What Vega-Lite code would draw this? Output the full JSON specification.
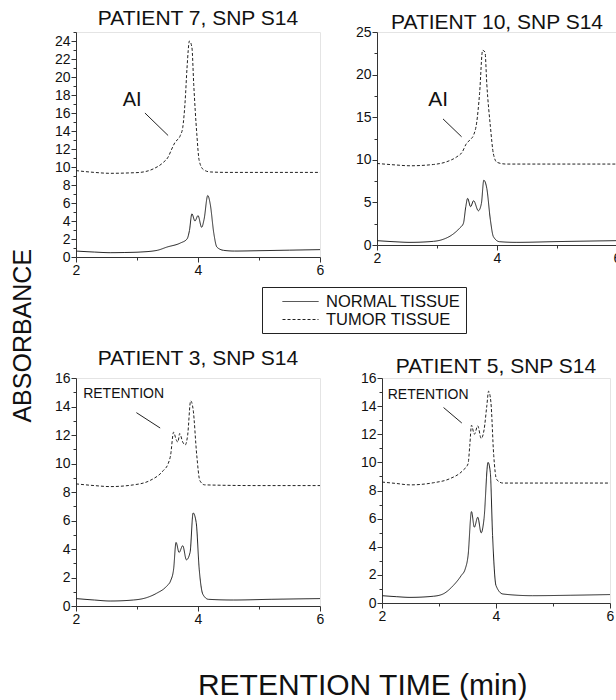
{
  "$schema": "https://vega.github.io/schema/vega-lite/v6.json",
  "padding": {"left": 10, "top": 7, "right": 0, "bottom": 5},
  "config": {
    "font": "Liberation Sans",
    "view": {"stroke": "#e4e4e4"},
    "axis": {"grid": false, "domainColor": "#333", "tickColor": "#333", "labelColor": "#111", "labelFontSize": 14, "labelFont": "Liberation Sans", "labelPadding": 1, "tickSize": 5, "labelFlush": false, "labelOverlap": false, "format": "~g", "tickCount": 60},
    "title": {"fontSize": 21, "fontWeight": "normal", "color": "#111", "font": "Liberation Sans"},
    "legend": {"strokeColor": "#222", "fillColor": "white", "padding": 5, "cornerRadius": 0, "labelFontSize": 16.5, "labelColor": "#111", "symbolType": "M-2,0H2", "symbolSize": 324, "symbolStrokeWidth": 1, "symbolStrokeColor": "#222", "symbolOffset": 24, "labelOffset": 16, "rowPadding": 0}
  },
  "datasets": {
    "curves": [
      {"p":"P7","s":"NORMAL TISSUE","x":2,"y":0.66},{"p":"P7","s":"NORMAL TISSUE","x":2.3,"y":0.55},{"p":"P7","s":"NORMAL TISSUE","x":2.56,"y":0.48},{"p":"P7","s":"NORMAL TISSUE","x":2.8,"y":0.5},{"p":"P7","s":"NORMAL TISSUE","x":3.05,"y":0.55},{"p":"P7","s":"NORMAL TISSUE","x":3.33,"y":0.74},{"p":"P7","s":"NORMAL TISSUE","x":3.49,"y":1.1},{"p":"P7","s":"NORMAL TISSUE","x":3.71,"y":1.55},{"p":"P7","s":"NORMAL TISSUE","x":3.82,"y":2.0},{"p":"P7","s":"NORMAL TISSUE","x":3.86,"y":2.95},{"p":"P7","s":"NORMAL TISSUE","x":3.9,"y":4.8},{"p":"P7","s":"NORMAL TISSUE","x":3.95,"y":4.0},{"p":"P7","s":"NORMAL TISSUE","x":4.0,"y":4.6},{"p":"P7","s":"NORMAL TISSUE","x":4.06,"y":3.3},{"p":"P7","s":"NORMAL TISSUE","x":4.1,"y":4.2},{"p":"P7","s":"NORMAL TISSUE","x":4.16,"y":6.83},{"p":"P7","s":"NORMAL TISSUE","x":4.2,"y":5.9},{"p":"P7","s":"NORMAL TISSUE","x":4.26,"y":2.6},{"p":"P7","s":"NORMAL TISSUE","x":4.31,"y":1.1},{"p":"P7","s":"NORMAL TISSUE","x":4.42,"y":0.74},{"p":"P7","s":"NORMAL TISSUE","x":4.6,"y":0.66},{"p":"P7","s":"NORMAL TISSUE","x":5.0,"y":0.7},{"p":"P7","s":"NORMAL TISSUE","x":5.5,"y":0.76},{"p":"P7","s":"NORMAL TISSUE","x":6,"y":0.82},
      {"p":"P7","s":"TUMOR TISSUE","x":2,"y":9.6},{"p":"P7","s":"TUMOR TISSUE","x":2.3,"y":9.4},{"p":"P7","s":"TUMOR TISSUE","x":2.56,"y":9.3},{"p":"P7","s":"TUMOR TISSUE","x":2.9,"y":9.35},{"p":"P7","s":"TUMOR TISSUE","x":3.05,"y":9.4},{"p":"P7","s":"TUMOR TISSUE","x":3.27,"y":9.8},{"p":"P7","s":"TUMOR TISSUE","x":3.43,"y":10.5},{"p":"P7","s":"TUMOR TISSUE","x":3.51,"y":11.1},{"p":"P7","s":"TUMOR TISSUE","x":3.57,"y":12.0},{"p":"P7","s":"TUMOR TISSUE","x":3.62,"y":12.7},{"p":"P7","s":"TUMOR TISSUE","x":3.71,"y":13.5},{"p":"P7","s":"TUMOR TISSUE","x":3.75,"y":14.4},{"p":"P7","s":"TUMOR TISSUE","x":3.79,"y":17.4},{"p":"P7","s":"TUMOR TISSUE","x":3.82,"y":21.0},{"p":"P7","s":"TUMOR TISSUE","x":3.86,"y":24.0},{"p":"P7","s":"TUMOR TISSUE","x":3.9,"y":23.3},{"p":"P7","s":"TUMOR TISSUE","x":3.93,"y":19.2},{"p":"P7","s":"TUMOR TISSUE","x":3.98,"y":13.7},{"p":"P7","s":"TUMOR TISSUE","x":4.02,"y":10.7},{"p":"P7","s":"TUMOR TISSUE","x":4.09,"y":9.7},{"p":"P7","s":"TUMOR TISSUE","x":4.2,"y":9.45},{"p":"P7","s":"TUMOR TISSUE","x":4.5,"y":9.4},{"p":"P7","s":"TUMOR TISSUE","x":5,"y":9.4},{"p":"P7","s":"TUMOR TISSUE","x":6,"y":9.4},
      {"p":"P10","s":"NORMAL TISSUE","x":2,"y":0.51},{"p":"P10","s":"NORMAL TISSUE","x":2.3,"y":0.38},{"p":"P10","s":"NORMAL TISSUE","x":2.55,"y":0.31},{"p":"P10","s":"NORMAL TISSUE","x":2.94,"y":0.43},{"p":"P10","s":"NORMAL TISSUE","x":3.1,"y":0.66},{"p":"P10","s":"NORMAL TISSUE","x":3.27,"y":1.29},{"p":"P10","s":"NORMAL TISSUE","x":3.38,"y":2.0},{"p":"P10","s":"NORMAL TISSUE","x":3.44,"y":2.54},{"p":"P10","s":"NORMAL TISSUE","x":3.48,"y":4.5},{"p":"P10","s":"NORMAL TISSUE","x":3.51,"y":5.47},{"p":"P10","s":"NORMAL TISSUE","x":3.56,"y":4.5},{"p":"P10","s":"NORMAL TISSUE","x":3.61,"y":5.2},{"p":"P10","s":"NORMAL TISSUE","x":3.69,"y":4.02},{"p":"P10","s":"NORMAL TISSUE","x":3.74,"y":4.88},{"p":"P10","s":"NORMAL TISSUE","x":3.78,"y":7.6},{"p":"P10","s":"NORMAL TISSUE","x":3.83,"y":6.64},{"p":"P10","s":"NORMAL TISSUE","x":3.89,"y":2.93},{"p":"P10","s":"NORMAL TISSUE","x":3.94,"y":0.98},{"p":"P10","s":"NORMAL TISSUE","x":4.04,"y":0.39},{"p":"P10","s":"NORMAL TISSUE","x":4.32,"y":0.31},{"p":"P10","s":"NORMAL TISSUE","x":5,"y":0.4},{"p":"P10","s":"NORMAL TISSUE","x":6,"y":0.51},
      {"p":"P10","s":"TUMOR TISSUE","x":2,"y":9.57},{"p":"P10","s":"TUMOR TISSUE","x":2.3,"y":9.4},{"p":"P10","s":"TUMOR TISSUE","x":2.55,"y":9.3},{"p":"P10","s":"TUMOR TISSUE","x":2.94,"y":9.45},{"p":"P10","s":"TUMOR TISSUE","x":3.16,"y":9.77},{"p":"P10","s":"TUMOR TISSUE","x":3.33,"y":10.35},{"p":"P10","s":"TUMOR TISSUE","x":3.42,"y":10.9},{"p":"P10","s":"TUMOR TISSUE","x":3.49,"y":11.9},{"p":"P10","s":"TUMOR TISSUE","x":3.56,"y":12.4},{"p":"P10","s":"TUMOR TISSUE","x":3.61,"y":12.9},{"p":"P10","s":"TUMOR TISSUE","x":3.66,"y":14.3},{"p":"P10","s":"TUMOR TISSUE","x":3.71,"y":17.8},{"p":"P10","s":"TUMOR TISSUE","x":3.76,"y":22.85},{"p":"P10","s":"TUMOR TISSUE","x":3.8,"y":22.65},{"p":"P10","s":"TUMOR TISSUE","x":3.83,"y":18.9},{"p":"P10","s":"TUMOR TISSUE","x":3.89,"y":13.9},{"p":"P10","s":"TUMOR TISSUE","x":3.94,"y":10.7},{"p":"P10","s":"TUMOR TISSUE","x":4.0,"y":9.7},{"p":"P10","s":"TUMOR TISSUE","x":4.15,"y":9.5},{"p":"P10","s":"TUMOR TISSUE","x":5,"y":9.5},{"p":"P10","s":"TUMOR TISSUE","x":6,"y":9.5},
      {"p":"P3","s":"NORMAL TISSUE","x":2,"y":0.52},{"p":"P3","s":"NORMAL TISSUE","x":2.3,"y":0.42},{"p":"P3","s":"NORMAL TISSUE","x":2.56,"y":0.35},{"p":"P3","s":"NORMAL TISSUE","x":2.94,"y":0.42},{"p":"P3","s":"NORMAL TISSUE","x":3.16,"y":0.59},{"p":"P3","s":"NORMAL TISSUE","x":3.32,"y":0.89},{"p":"P3","s":"NORMAL TISSUE","x":3.49,"y":1.41},{"p":"P3","s":"NORMAL TISSUE","x":3.55,"y":1.76},{"p":"P3","s":"NORMAL TISSUE","x":3.6,"y":2.58},{"p":"P3","s":"NORMAL TISSUE","x":3.64,"y":4.46},{"p":"P3","s":"NORMAL TISSUE","x":3.69,"y":3.76},{"p":"P3","s":"NORMAL TISSUE","x":3.75,"y":4.23},{"p":"P3","s":"NORMAL TISSUE","x":3.81,"y":3.24},{"p":"P3","s":"NORMAL TISSUE","x":3.87,"y":3.76},{"p":"P3","s":"NORMAL TISSUE","x":3.92,"y":6.53},{"p":"P3","s":"NORMAL TISSUE","x":3.97,"y":5.87},{"p":"P3","s":"NORMAL TISSUE","x":4.02,"y":2.58},{"p":"P3","s":"NORMAL TISSUE","x":4.08,"y":0.82},{"p":"P3","s":"NORMAL TISSUE","x":4.17,"y":0.47},{"p":"P3","s":"NORMAL TISSUE","x":4.58,"y":0.42},{"p":"P3","s":"NORMAL TISSUE","x":5.2,"y":0.47},{"p":"P3","s":"NORMAL TISSUE","x":6,"y":0.52},
      {"p":"P3","s":"TUMOR TISSUE","x":2,"y":8.57},{"p":"P3","s":"TUMOR TISSUE","x":2.3,"y":8.45},{"p":"P3","s":"TUMOR TISSUE","x":2.56,"y":8.38},{"p":"P3","s":"TUMOR TISSUE","x":2.94,"y":8.5},{"p":"P3","s":"TUMOR TISSUE","x":3.21,"y":8.8},{"p":"P3","s":"TUMOR TISSUE","x":3.43,"y":9.5},{"p":"P3","s":"TUMOR TISSUE","x":3.51,"y":9.98},{"p":"P3","s":"TUMOR TISSUE","x":3.55,"y":10.56},{"p":"P3","s":"TUMOR TISSUE","x":3.6,"y":12.2},{"p":"P3","s":"TUMOR TISSUE","x":3.64,"y":11.7},{"p":"P3","s":"TUMOR TISSUE","x":3.67,"y":11.5},{"p":"P3","s":"TUMOR TISSUE","x":3.7,"y":12.1},{"p":"P3","s":"TUMOR TISSUE","x":3.75,"y":11.5},{"p":"P3","s":"TUMOR TISSUE","x":3.79,"y":11.3},{"p":"P3","s":"TUMOR TISSUE","x":3.83,"y":11.97},{"p":"P3","s":"TUMOR TISSUE","x":3.88,"y":14.4},{"p":"P3","s":"TUMOR TISSUE","x":3.92,"y":13.8},{"p":"P3","s":"TUMOR TISSUE","x":3.98,"y":10.56},{"p":"P3","s":"TUMOR TISSUE","x":4.03,"y":8.8},{"p":"P3","s":"TUMOR TISSUE","x":4.11,"y":8.5},{"p":"P3","s":"TUMOR TISSUE","x":5,"y":8.45},{"p":"P3","s":"TUMOR TISSUE","x":6,"y":8.45},
      {"p":"P5","s":"NORMAL TISSUE","x":2,"y":0.52},{"p":"P5","s":"NORMAL TISSUE","x":2.25,"y":0.45},{"p":"P5","s":"NORMAL TISSUE","x":2.49,"y":0.4},{"p":"P5","s":"NORMAL TISSUE","x":2.9,"y":0.48},{"p":"P5","s":"NORMAL TISSUE","x":3.07,"y":0.64},{"p":"P5","s":"NORMAL TISSUE","x":3.25,"y":1.24},{"p":"P5","s":"NORMAL TISSUE","x":3.39,"y":1.95},{"p":"P5","s":"NORMAL TISSUE","x":3.46,"y":2.42},{"p":"P5","s":"NORMAL TISSUE","x":3.51,"y":3.37},{"p":"P5","s":"NORMAL TISSUE","x":3.57,"y":6.5},{"p":"P5","s":"NORMAL TISSUE","x":3.62,"y":5.39},{"p":"P5","s":"NORMAL TISSUE","x":3.68,"y":6.1},{"p":"P5","s":"NORMAL TISSUE","x":3.74,"y":4.99},{"p":"P5","s":"NORMAL TISSUE","x":3.79,"y":6.0},{"p":"P5","s":"NORMAL TISSUE","x":3.86,"y":10.0},{"p":"P5","s":"NORMAL TISSUE","x":3.9,"y":9.3},{"p":"P5","s":"NORMAL TISSUE","x":3.94,"y":4.8},{"p":"P5","s":"NORMAL TISSUE","x":4.0,"y":1.24},{"p":"P5","s":"NORMAL TISSUE","x":4.12,"y":0.64},{"p":"P5","s":"NORMAL TISSUE","x":4.64,"y":0.52},{"p":"P5","s":"NORMAL TISSUE","x":5.3,"y":0.55},{"p":"P5","s":"NORMAL TISSUE","x":6,"y":0.6},
      {"p":"P5","s":"TUMOR TISSUE","x":2,"y":8.6},{"p":"P5","s":"TUMOR TISSUE","x":2.25,"y":8.5},{"p":"P5","s":"TUMOR TISSUE","x":2.49,"y":8.4},{"p":"P5","s":"TUMOR TISSUE","x":2.9,"y":8.55},{"p":"P5","s":"TUMOR TISSUE","x":3.19,"y":8.84},{"p":"P5","s":"TUMOR TISSUE","x":3.42,"y":9.43},{"p":"P5","s":"TUMOR TISSUE","x":3.51,"y":9.9},{"p":"P5","s":"TUMOR TISSUE","x":3.54,"y":11.2},{"p":"P5","s":"TUMOR TISSUE","x":3.57,"y":12.64},{"p":"P5","s":"TUMOR TISSUE","x":3.62,"y":12.0},{"p":"P5","s":"TUMOR TISSUE","x":3.68,"y":12.6},{"p":"P5","s":"TUMOR TISSUE","x":3.74,"y":11.7},{"p":"P5","s":"TUMOR TISSUE","x":3.79,"y":12.3},{"p":"P5","s":"TUMOR TISSUE","x":3.84,"y":14.06},{"p":"P5","s":"TUMOR TISSUE","x":3.87,"y":15.06},{"p":"P5","s":"TUMOR TISSUE","x":3.91,"y":14.3},{"p":"P5","s":"TUMOR TISSUE","x":3.96,"y":10.5},{"p":"P5","s":"TUMOR TISSUE","x":4.01,"y":8.79},{"p":"P5","s":"TUMOR TISSUE","x":4.12,"y":8.53},{"p":"P5","s":"TUMOR TISSUE","x":5,"y":8.53},{"p":"P5","s":"TUMOR TISSUE","x":6,"y":8.53}
    ],
    "notes": [
      {"p":"P7","label":"AI","x":2.92,"y":17.4},
      {"p":"P10","label":"AI","x":3.02,"y":17.0},
      {"p":"P3","label":"RETENTION","x":2.78,"y":14.86},
      {"p":"P5","label":"RETENTION","x":2.81,"y":14.8}
    ],
    "arrows": [
      {"p":"P7","x":3.13,"y":16.0,"x2":3.51,"y2":13.5},
      {"p":"P10","x":3.1,"y":14.8,"x2":3.41,"y2":12.7},
      {"p":"P3","x":2.99,"y":13.57,"x2":3.38,"y2":12.49},
      {"p":"P5","x":3.08,"y":13.9,"x2":3.40,"y2":12.8}
    ]
  },
  "title": {"text": "ABSORBANCE", "orient": "left", "fontSize": 25, "offset": 18, "anchor": "middle", "frame": "bounds", "dx": 18},
  "vconcat": [
    {
      "title": {"text": "RETENTION TIME (min)", "orient": "bottom", "fontSize": 30, "offset": 44, "anchor": "middle", "frame": "bounds", "dx": 25},
      "spacing": 69,
      "vconcat": [
        {
          "bounds": "flush",
          "spacing": 57,
          "hconcat": [
            {
              "width": 244, "height": 225,
              "title": {"text": "PATIENT 7, SNP S14", "offset": -3.5},
              "layer": [
                {"data": {"name": "curves"}, "transform": [{"filter": "datum.p === 'P7'"}],
                 "mark": {"type": "line", "interpolate": "monotone", "strokeWidth": 1, "color": "#222"},
                 "encoding": {
                   "x": {"field": "x", "type": "quantitative", "scale": {"domain": [2, 6], "nice": false}, "axis": {"title": null, "labelOverlap": false, "tickCount": 60, "values": [2,3,4,5,6], "labelExpr": "datum.value % 2 === 0 ? datum.label : ''", "tickSize": {"condition": {"test": "datum.value % 2 === 0", "value": 5}, "value": 3}}},
                   "y": {"field": "y", "type": "quantitative", "scale": {"domain": [0, 25], "nice": false}, "axis": {"title": null, "labelOverlap": false, "tickCount": 60, "values": [0,1,2,3,4,5,6,7,8,9,10,11,12,13,14,15,16,17,18,19,20,21,22,23,24,25], "labelExpr": "datum.value % 2 === 0 && datum.value < 25 ? datum.label : ''", "tickSize": {"condition": {"test": "datum.value % 2 === 0", "value": 5}, "value": 3}}},
                   "strokeDash": {"field": "s", "type": "nominal", "scale": {"domain": ["NORMAL TISSUE", "TUMOR TISSUE"], "range": [[1, 0], [3, 2]]}, "legend": {"title": null, "orient": "none", "legendX": 186, "legendY": 255}}
                 }},
                {"data": {"name": "notes"}, "transform": [{"filter": "datum.p === 'P7'"}],
                 "mark": {"type": "text", "fontSize": 20, "color": "#111"},
                 "encoding": {"x": {"field": "x", "type": "quantitative"}, "y": {"field": "y", "type": "quantitative"}, "text": {"field": "label"}}},
                {"data": {"name": "arrows"}, "transform": [{"filter": "datum.p === 'P7'"}],
                 "mark": {"type": "rule", "color": "#222", "strokeWidth": 1},
                 "encoding": {"x": {"field": "x", "type": "quantitative"}, "y": {"field": "y", "type": "quantitative"}, "x2": {"field": "x2"}, "y2": {"field": "y2"}}}
              ]
            },
            {
              "width": 240, "height": 213,
              "title": {"text": "PATIENT 10, SNP S14", "offset": -7.5},
              "layer": [
                {"data": {"name": "curves"}, "transform": [{"filter": "datum.p === 'P10'"}],
                 "mark": {"type": "line", "interpolate": "monotone", "strokeWidth": 1, "color": "#222"},
                 "encoding": {
                   "x": {"field": "x", "type": "quantitative", "scale": {"domain": [2, 6], "nice": false}, "axis": {"title": null, "labelOverlap": false, "tickCount": 60, "values": [2,3,4,5,6], "labelExpr": "datum.value % 2 === 0 ? datum.label : ''", "tickSize": {"condition": {"test": "datum.value % 2 === 0", "value": 5}, "value": 3}}},
                   "y": {"field": "y", "type": "quantitative", "scale": {"domain": [0, 25], "nice": false}, "axis": {"title": null, "labelOverlap": false, "tickCount": 60, "values": [0,2.5,5,7.5,10,12.5,15,17.5,20,22.5,25], "labelExpr": "datum.value % 5 === 0 ? datum.label : ''", "tickSize": {"condition": {"test": "datum.value % 5 === 0", "value": 5}, "value": 3}}},
                   "strokeDash": {"field": "s", "type": "nominal", "scale": {"domain": ["NORMAL TISSUE", "TUMOR TISSUE"], "range": [[1, 0], [3, 2]]}, "legend": null}
                 }},
                {"data": {"name": "notes"}, "transform": [{"filter": "datum.p === 'P10'"}],
                 "mark": {"type": "text", "fontSize": 21, "color": "#111"},
                 "encoding": {"x": {"field": "x", "type": "quantitative"}, "y": {"field": "y", "type": "quantitative"}, "text": {"field": "label"}}},
                {"data": {"name": "arrows"}, "transform": [{"filter": "datum.p === 'P10'"}],
                 "mark": {"type": "rule", "color": "#222", "strokeWidth": 1},
                 "encoding": {"x": {"field": "x", "type": "quantitative"}, "y": {"field": "y", "type": "quantitative"}, "x2": {"field": "x2"}, "y2": {"field": "y2"}}}
              ]
            }
          ]
        },
        {
          "bounds": "flush",
          "spacing": 62,
          "hconcat": [
            {
              "width": 244, "height": 228,
              "title": {"text": "PATIENT 3, SNP S14", "offset": 2.5},
              "layer": [
                {"data": {"name": "curves"}, "transform": [{"filter": "datum.p === 'P3'"}],
                 "mark": {"type": "line", "interpolate": "monotone", "strokeWidth": 1, "color": "#222"},
                 "encoding": {
                   "x": {"field": "x", "type": "quantitative", "scale": {"domain": [2, 6], "nice": false}, "axis": {"title": null, "labelOverlap": false, "tickCount": 60, "values": [2,3,4,5,6], "labelExpr": "datum.value % 2 === 0 ? datum.label : ''", "tickSize": {"condition": {"test": "datum.value % 2 === 0", "value": 5}, "value": 3}}},
                   "y": {"field": "y", "type": "quantitative", "scale": {"domain": [0, 16], "nice": false}, "axis": {"title": null, "labelOverlap": false, "tickCount": 60, "values": [0,1,2,3,4,5,6,7,8,9,10,11,12,13,14,15,16], "labelExpr": "datum.value % 2 === 0 ? datum.label : ''", "tickSize": {"condition": {"test": "datum.value % 2 === 0", "value": 5}, "value": 3}}},
                   "strokeDash": {"field": "s", "type": "nominal", "scale": {"domain": ["NORMAL TISSUE", "TUMOR TISSUE"], "range": [[1, 0], [3, 2]]}, "legend": null}
                 }},
                {"data": {"name": "notes"}, "transform": [{"filter": "datum.p === 'P3'"}],
                 "mark": {"type": "text", "fontSize": 14, "color": "#111"},
                 "encoding": {"x": {"field": "x", "type": "quantitative"}, "y": {"field": "y", "type": "quantitative"}, "text": {"field": "label"}}},
                {"data": {"name": "arrows"}, "transform": [{"filter": "datum.p === 'P3'"}],
                 "mark": {"type": "rule", "color": "#222", "strokeWidth": 1},
                 "encoding": {"x": {"field": "x", "type": "quantitative"}, "y": {"field": "y", "type": "quantitative"}, "x2": {"field": "x2"}, "y2": {"field": "y2"}}}
              ]
            },
            {
              "width": 228, "height": 225,
              "title": {"text": "PATIENT 5, SNP S14", "offset": -5.5},
              "layer": [
                {"data": {"name": "curves"}, "transform": [{"filter": "datum.p === 'P5'"}],
                 "mark": {"type": "line", "interpolate": "monotone", "strokeWidth": 1, "color": "#222"},
                 "encoding": {
                   "x": {"field": "x", "type": "quantitative", "scale": {"domain": [2, 6], "nice": false}, "axis": {"title": null, "labelOverlap": false, "tickCount": 60, "values": [2,3,4,5,6], "labelExpr": "datum.value % 2 === 0 ? datum.label : ''", "tickSize": {"condition": {"test": "datum.value % 2 === 0", "value": 5}, "value": 3}}},
                   "y": {"field": "y", "type": "quantitative", "scale": {"domain": [0, 16], "nice": false}, "axis": {"title": null, "labelOverlap": false, "tickCount": 60, "values": [0,1,2,3,4,5,6,7,8,9,10,11,12,13,14,15,16], "labelExpr": "datum.value % 2 === 0 ? datum.label : ''", "tickSize": {"condition": {"test": "datum.value % 2 === 0", "value": 5}, "value": 3}}},
                   "strokeDash": {"field": "s", "type": "nominal", "scale": {"domain": ["NORMAL TISSUE", "TUMOR TISSUE"], "range": [[1, 0], [3, 2]]}, "legend": null}
                 }},
                {"data": {"name": "notes"}, "transform": [{"filter": "datum.p === 'P5'"}],
                 "mark": {"type": "text", "fontSize": 14, "color": "#111"},
                 "encoding": {"x": {"field": "x", "type": "quantitative"}, "y": {"field": "y", "type": "quantitative"}, "text": {"field": "label"}}},
                {"data": {"name": "arrows"}, "transform": [{"filter": "datum.p === 'P5'"}],
                 "mark": {"type": "rule", "color": "#222", "strokeWidth": 1},
                 "encoding": {"x": {"field": "x", "type": "quantitative"}, "y": {"field": "y", "type": "quantitative"}, "x2": {"field": "x2"}, "y2": {"field": "y2"}}}
              ]
            }
          ]
        }
      ]
    }
  ]
}
